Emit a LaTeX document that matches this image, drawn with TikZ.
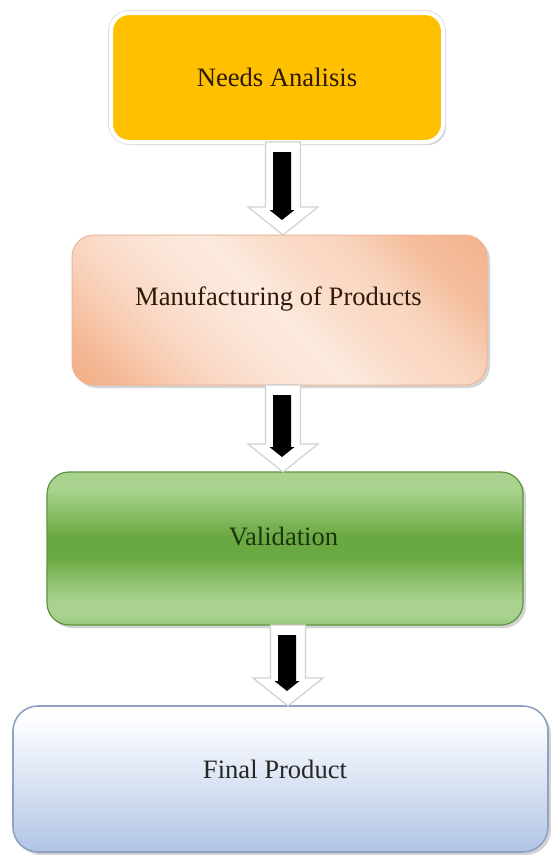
\documentclass[tikz,border=0pt]{standalone}
\usepackage{fontspec}
\setmainfont{Liberation Serif}
\usetikzlibrary{calc,shadows}

% palette
\definecolor{yellowfill}{HTML}{FFC000}
\definecolor{peachA}{HTML}{F1A87C}
\definecolor{peachB}{HTML}{F3B28C}
\definecolor{peachC}{HTML}{F9D5C0}
\definecolor{peachD}{HTML}{FBE4D6}
\definecolor{peachE}{HTML}{FCE9DE}
\definecolor{peachF}{HTML}{FADCC9}
\definecolor{peachG}{HTML}{F5BC9A}
\definecolor{peachline}{HTML}{EDB797}
\definecolor{greenEdge}{HTML}{9CC87E}
\definecolor{greenLight}{HTML}{A8D28D}
\definecolor{greenDark}{HTML}{6AA942}
\definecolor{greenline}{HTML}{5E943C}
\definecolor{blueBottom}{HTML}{B1C4E5}
\definecolor{blueMid}{HTML}{E4EBF7}
\definecolor{blueline}{HTML}{8FA2C4}
\definecolor{textbrown}{HTML}{2E1A08}
\definecolor{textgreen}{HTML}{1E3510}

% fills of the step boxes
\pgfdeclarehorizontalshading{peachband}{100bp}{%
  color(0bp)=(peachA); color(18bp)=(peachB); color(32bp)=(peachC);
  color(42bp)=(peachD); color(50bp)=(peachE); color(58bp)=(peachF);
  color(66bp)=(peachC); color(76bp)=(peachG); color(86bp)=(peachB);
  color(100bp)=(peachA)}
\pgfdeclareverticalshading{greenband}{100bp}{%
  color(0bp)=(greenEdge); color(25bp)=(greenEdge); color(28bp)=(greenLight);
  color(33bp)=(greenLight); color(40bp)=(greenLight!55!greenDark);
  color(47bp)=(greenDark); color(54bp)=(greenDark);
  color(62bp)=(greenLight!55!greenDark); color(69bp)=(greenLight);
  color(75bp)=(greenLight); color(100bp)=(greenLight)}
\pgfdeclareverticalshading{blueband}{100bp}{%
  color(0bp)=(blueBottom); color(25bp)=(blueBottom); color(55bp)=(blueMid);
  color(72bp)=(white); color(100bp)=(white)}

\tikzset{
  stepbox/.style={inner sep=0pt, outer sep=0pt},
  softshadow/.style={drop shadow={shadow xshift=3pt, shadow yshift=-3pt,
      opacity=0.3, fill=black!55}},
  steplabel/.style={inner sep=0pt, anchor=base,
      font=\fontsize{26.6pt}{31pt}\selectfont},
  whitearrow/.style={fill=white, draw=black!18, line width=1.2pt,
      line join=miter},
  blackarrow/.style={fill=black},
}

% block connector: white outlined arrow with a black arrow inside it
\newcommand\flowarrow[3]{%
  \path[whitearrow] let \p1=(#1.south), \p2=(#2.north) in
    (#3-17.5,\y1) -- (#3+17.5,\y1) -- (#3+17.5,\y2+28pt)
    -- (#3+35,\y2+28pt) -- (#3,\y2) -- (#3-35,\y2+28pt)
    -- (#3-17.5,\y2+28pt) -- cycle;
  \path[blackarrow] let \p1=(#1.south), \p2=(#2.north) in
    (#3-10,\y1-10pt) -- (#3+8,\y1-10pt) -- (#3+8,\y2+25pt)
    -- (#3+11.5,\y2+25pt) -- (#3-1,\y2+15pt) -- (#3-13.5,\y2+25pt)
    -- (#3-10,\y2+25pt) -- cycle;
}

\begin{document}
\begin{tikzpicture}[x=1pt, y=-1pt]
  \useasboundingbox (0,0) rectangle (550,855);
  \fill[white] (0,0) rectangle (550,855);

  % step boxes
  \node[stepbox, fill=yellowfill, draw=white, line width=4pt,
        rounded corners=18pt, minimum width=332pt, minimum height=129pt,
        softshadow, preaction={draw=black!14, line width=5.6pt}]
        (needs) at (277,77.5) {};
  \node[stepbox, shading=peachband, shading angle=45, draw=peachline,
        line width=1pt, rounded corners=22pt, minimum width=415pt,
        minimum height=150pt, softshadow]
        (manuf) at (279.5,310) {};
  \node[stepbox, shading=greenband, draw=greenline, line width=1.2pt,
        rounded corners=22pt, minimum width=476pt, minimum height=153pt,
        softshadow]
        (valid) at (285,548.5) {};
  \node[stepbox, shading=blueband, draw=blueline, line width=1.6pt,
        rounded corners=25pt, minimum width=535pt, minimum height=146pt,
        softshadow]
        (final) at (280.5,779) {};

  % labels
  \node[steplabel, text=textbrown] (needsText) at (277,86) {Needs Analisis};
  \node[steplabel, text=textbrown] (manufText) at (278.5,305) {Manufacturing of Products};
  \node[steplabel, text=textgreen] (validText) at (283.5,545) {Validation};
  \node[steplabel, text=black!85] (finalText) at (275,778) {Final Product};

  % connectors
  \flowarrow{needs}{manuf}{283}
  \flowarrow{manuf}{valid}{283}
  \flowarrow{valid}{final}{288}
\end{tikzpicture}
\end{document}
